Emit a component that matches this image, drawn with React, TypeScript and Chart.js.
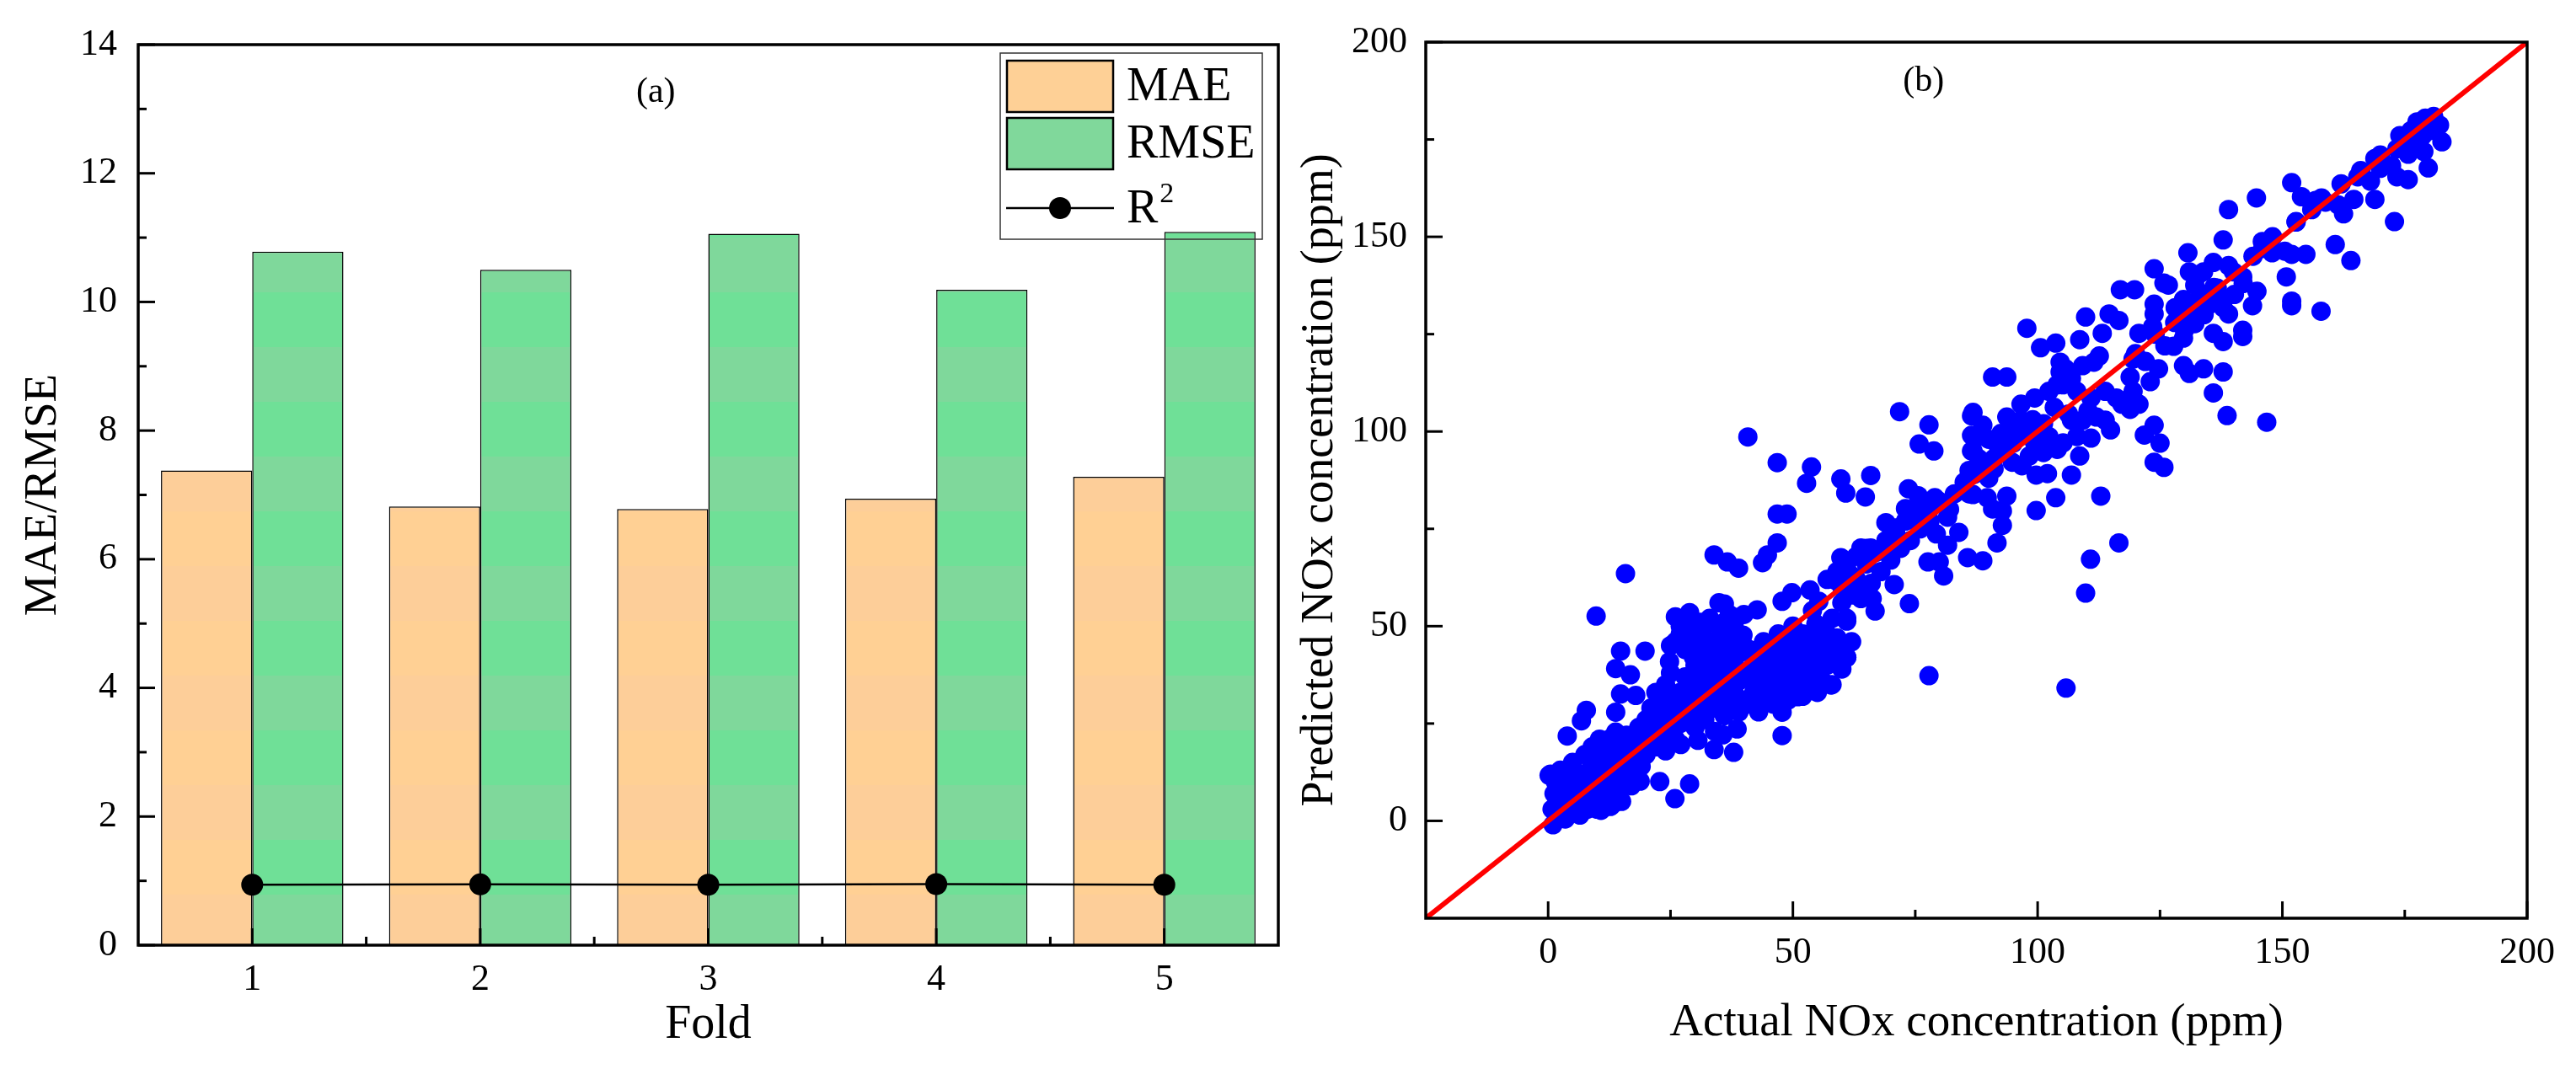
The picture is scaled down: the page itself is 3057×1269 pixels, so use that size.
import { useEffect, useRef } from "react";
import { Chart, registerables } from "chart.js";

Chart.register(...registerables);

Chart.defaults.font.family = "'Liberation Serif', 'Times New Roman', serif";
Chart.defaults.color = "#000";

// (a) k-fold cross validation
const folds = ["1", "2", "3", "4", "5"];
const maeValues = [7.38, 6.82, 6.78, 6.94, 7.28];
const rmseValues = [10.78, 10.5, 11.06, 10.19, 11.09];
const r2Values = [0.94, 0.945, 0.94, 0.95, 0.94];

// (b) actual vs predicted NOx (ppm), [actual, predicted]
const noxPoints: [number, number][] = [
  // sparse points
  [40.8, 98.6], [46.8, 92.0], [53.8, 90.9], [52.8, 86.7], [59.8, 87.8], [60.8, 84.2], [65.9, 88.7], [64.8, 83.2],
  [71.8, 105.1], [77.8, 101.7], [75.8, 96.8], [78.8, 95.0], [86.5, 104], [86.5, 99], [86.5, 95], [46.8, 78.8],
  [48.8, 78.8], [46.8, 71.4], [44.8, 68.3], [43.8, 66.3], [33.9, 68.3], [36.6, 66.5], [38.9, 64.9], [15.8, 63.5],
  [9.8, 52.6], [34.9, 56.0], [36.0, 55.7], [42.7, 54.2], [77.8, 37.3], [73.8, 55.8], [66.8, 53.9], [57.8, 34.9],
  [47.8, 27.9], [47.8, 21.9], [37.9, 17.6], [33.9, 18.3], [25.9, 5.7], [28.9, 9.5], [22.8, 10.1], [18.8, 10.2],
  [7.8, 28.4], [6.8, 25.7], [3.9, 21.8], [14.8, 43.6], [19.8, 43.6], [13.8, 39.1], [16.8, 37.5], [14.8, 32.6],
  [17.9, 32.2], [13.8, 27.9], [13.8, 22.8], [10.5, 21.0], [24.8, 40.9], [26.0, 52.4], [28.9, 53.5], [29.7, 42],
  [35.7, 49.9], [39.8, 47.7], [47.8, 56.4], [49.8, 58.6], [53.5, 59.3], [58.7, 61.8], [59.8, 67.6], [63.9, 70.1],
  [65.9, 70.1], [69.0, 76.6], [71.0, 75.2], [73.6, 85.3], [75.6, 83.5], [73.0, 80.2], [84.8, 84.9], [83.9, 74.1],
  [81.6, 70.8], [77.6, 79.1], [79.3, 73.7], [85.7, 67.6], [80.8, 62.9], [70.7, 60.7], [77.6, 66.5], [79.9, 66.5],
  [61.0, 51.3], [61.0, 42], [58.1, 44.1], [55.8, 49.2], [51.0, 31.9], [44.9, 31.9], [38.6, 23.6], [35.7, 22.1],
  [30.6, 20.7], [27.1, 19.6], [87.1, 89.6], [66.2, 57.1], [63.9, 57.1], [55.3, 56.4], [54.7, 50.6],
  [10.8, 2.7], [12.7, 3.7], [0.2, 11.7],
  [97.8, 126.5], [90.8, 114.0], [93.7, 114.0], [86.8, 104.9], [88.8, 101.6], [88.0, 98.7], [86.8, 95.0],
  [100.6, 121.5], [103.7, 122.7], [104.6, 117.8], [105.7, 116.1], [109.8, 129.4], [108.6, 123.6], [114.6, 130.2],
  [116.6, 128.5], [113.2, 125.2], [116.9, 136.4], [119.8, 136.4], [123.8, 141.8], [125.8, 138.1], [126.7, 137.6],
  [130.7, 145.9], [137.9, 149.2], [139, 157], [145.9, 148.8], [152.8, 153.8], [147.9, 145.9], [150.5, 146.3],
  [151.9, 145.5], [154.8, 145.5], [160.8, 148], [164.0, 143.9], [162.5, 155.9], [150.8, 139.7], [151.9, 133.5],
  [151.9, 132.3], [157.9, 130.9], [131, 141], [133.9, 141], [135.9, 143.4], [139, 142.6], [132.1, 137.6],
  [136.7, 136.8], [141.9, 139.7], [144.8, 136], [143.9, 132.3], [141.9, 126], [141.9, 124.4], [137.9, 123.1],
  [135.9, 125.2], [139, 130.2], [128.1, 131.8], [129.8, 133.9], [123.8, 132.7], [123.8, 130.2], [123.5, 126.9],
  [120.7, 125.2], [127.8, 121.9], [129.8, 124], [129.8, 116.9], [131, 114.9], [133.9, 116.1], [137.9, 115.3],
  [135.9, 109.9], [138.7, 104.1], [146.8, 102.4], [123, 112.8], [124.7, 116.1], [119.5, 118.6], [118.9, 114],
  [120.7, 107], [118.9, 105.7], [123.8, 101.6], [121.8, 99.1], [125, 97], [123.8, 92.1], [125.8, 90.8],
  [114.9, 100.4], [110.9, 98.3], [106.9, 88.8], [108.6, 93.7], [112.9, 83.4], [103.7, 83], [99.7, 79.7],
  [116.6, 71.4], [110.8, 67.2], [109.8, 58.5], [105.8, 34.1], [93.7, 83.4], [92.8, 79.6], [92.8, 75.9],
  [91.7, 71.4], [88.8, 66.8], [81.6, 78], [89.7, 83], [90.8, 80.1], [88.5, 89.6], [91.1, 90.4], [86.8, 83.8],
  [96.8, 91.2], [99.7, 88.8], [102, 89.2], [94.8, 92.1], [98.3, 93.7], [144.7, 160],
  [179.2, 180.5], [180.9, 180.9], [177.5, 179.5], [176.3, 177.3], [182.1, 178.7], [182.6, 174.4], [178.6, 175.9],
  [180.3, 177.3], [178.9, 171.9], [179.8, 167.7], [175.7, 171.2], [173.4, 172.6], [172.3, 168.3], [173.4, 165.4],
  [175.7, 164.7], [168.9, 170.1], [170, 167.6], [168, 164.3], [168.9, 159.6], [165.4, 165.4], [164.6, 159.6],
  [161.4, 158.2], [162, 163.6], [172.9, 153.9], [158.8, 158.9], [156.8, 159.3], [153.9, 160.3], [151.9, 163.9],
  [152.8, 153.9],
  // dense band near the origin
  [0.5, 12], [0.8, 3], [1, -1], [1.2, 7], [1.5, 10], [2, 1], [2, 5], [2.5, 13], [3, 3], [3, 8], [3.5, 0.5],
  [4, 6], [4, 11], [4.5, 2], [5, 9], [5, 15], [5.5, 4], [6, 7], [6, 12], [6.5, 1.5], [7, 5], [7, 10], [7.5, 17],
  [8, 3], [8, 8], [8.5, 13], [9, 6], [9, 19], [9.5, 10], [10, 3], [10, 15], [10.5, 8], [11, 12], [11, 18],
  [11.5, 5], [12, 9], [12, 14], [12.5, 21], [13, 4], [13, 11], [13.5, 16], [14, 8], [14, 13], [14.5, 19],
  [15, 5], [15, 10], [15.5, 15], [16, 22], [16, 12], [16.5, 17], [17, 9], [17, 14], [17.5, 20], [18, 16],
  [18, 12], [18.5, 24], [19, 18], [19, 14], [19.5, 21], [20, 17], [20, 26],
  // dense band 20-40 ppm
  [21, 23], [21, 29], [22, 19], [22, 26], [22, 33], [23, 22], [23, 30], [24, 18], [24, 27], [24, 35], [25, 24],
  [25, 31], [25, 38], [26, 21], [26, 28], [26, 46], [27, 25], [27, 33], [27, 50], [28, 30], [28, 37], [28, 44],
  [29, 27], [29, 35], [29, 52], [30, 24], [30, 32], [30, 40], [30, 48], [31, 29], [31, 36], [31, 44], [32, 26],
  [32, 34], [32, 41], [32, 50], [33, 31], [33, 38], [33, 46], [34, 23], [34, 29], [34, 36], [34, 43], [35, 33],
  [35, 40], [35, 47], [36, 27], [36, 35], [36, 42], [36, 51], [37, 30], [37, 38], [37, 45], [38, 33], [38, 40],
  [38, 48], [39, 28], [39, 36], [39, 43], [40, 31], [40, 38], [40, 45], [40, 53], [25, 45], [27, 48], [29, 47],
  [31, 51], [33, 52], [35, 50], [37, 53], [38, 50],
  // dense band 40-62 ppm
  [41, 30], [41, 37], [41, 44], [42, 33], [42, 40], [43, 28], [43, 36], [43, 44], [44, 31], [44, 39], [44, 46],
  [45, 34], [45, 42], [46, 30], [46, 37], [46, 45], [47, 33], [47, 40], [47, 48], [48, 36], [48, 43], [49, 31],
  [49, 39], [49, 47], [50, 34], [50, 41], [50, 50], [51, 37], [51, 45], [52, 32], [52, 40], [52, 48], [53, 35],
  [53, 43], [54, 38], [54, 46], [54, 54], [55, 33], [55, 41], [55, 50], [56, 36], [56, 44], [57, 40], [57, 48],
  [58, 35], [58, 43], [58, 52], [59, 47], [60, 39], [60, 45], [60, 56], [61, 42], [61, 52], [62, 46], [62, 58],
  // band 57-100 ppm
  [57, 62], [59, 64], [61, 66], [63, 68], [65, 70], [62, 63], [60, 60], [63, 62], [64, 58], [65, 66], [66, 61],
  [67, 69], [68, 64], [69, 72], [70, 67], [71, 74], [72, 70], [73, 77], [74, 72], [75, 79], [76, 75], [77, 81],
  [78, 77], [79, 83], [80, 82], [82, 80], [83, 84], [85, 87], [86, 84], [87, 89], [89, 91], [90, 88], [91, 93],
  [92, 96], [93, 95], [94, 99], [95, 97], [96, 101], [97, 99], [99, 103], [100, 101], [88, 93], [90, 98], [86, 90],
  // dense band 92-120 ppm
  [96.6, 107], [99.4, 108.6], [102.3, 110.3], [105.2, 112], [108, 110.3], [110.9, 108.6], [113.8, 110.3],
  [116.1, 108.6], [103.4, 106.2], [106.3, 104.5], [109.2, 102.9], [112, 103.7], [101.2, 102], [98.3, 100.4],
  [95.4, 98.7], [92.5, 99.5], [93.7, 103.7], [96.6, 102.9], [99.4, 97.1], [102.3, 98.7], [105.2, 97.1],
  [108, 98.7], [101.2, 94.6], [104, 95.4], [106.9, 102.9], [110.3, 105.3], [104.6, 115.3], [106.9, 113.6],
  [109.2, 116.9], [111.5, 117.8], [112.6, 119.4], [104, 112], [119.5, 110.3], [117.2, 107], [113.8, 102.9],
  // band 120-183 ppm
  [120, 120], [122, 118], [124, 125], [126, 122], [128, 128], [130, 126], [132, 133], [134, 130], [136, 137],
  [138, 134], [140, 141], [142, 138], [144, 145], [132.7, 140.1], [134.4, 135.2], [136.7, 133.5], [140.2, 135.2],
  [137.9, 131.8], [134.4, 131.8], [131, 129.4], [132.1, 127.7], [146, 147], [148, 150], [156, 157], [158, 160],
  [166, 167], [170, 171], [174, 176], [176, 174], [181, 178],
];
const idealRange = [-25, 200];

const bandHeight = 65;

function bandFill(chart: any, dull: string, bright: string) {
  const area = chart.chartArea;
  if (!area) return dull;
  const bottom = area.bottom + 5;
  const total = bottom - area.top;
  const g = chart.ctx.createLinearGradient(0, bottom, 0, area.top);
  let pos = 0;
  let k = 0;
  while (pos < total) {
    const c = k % 2 === 0 ? dull : bright;
    g.addColorStop(pos / total, c);
    g.addColorStop(Math.min(1, (pos + bandHeight) / total), c);
    pos += bandHeight;
    k++;
  }
  return g;
}

function tickValues(scale: any) {
  if (scale.type === "category") {
    const n = scale.getLabels().length;
    const majors = Array.from({ length: n }, (_, i) => i);
    const minors = majors.slice(0, -1).map((v) => v + 0.5);
    return { majors, minors };
  }
  const majors = scale.ticks.map((t: any) => t.value);
  const step = majors[1] - majors[0];
  const minors = [majors[0] - step / 2, ...majors.map((v: number) => v + step / 2)].filter(
    (v) => v > scale.min && v < scale.max
  );
  return { majors, minors };
}

// box frame with inward ticks on the left and bottom axes
const frameTicks = {
  id: "frameTicks",
  afterDatasetsDraw(chart: any) {
    const { ctx, chartArea: a } = chart;
    ctx.save();
    ctx.strokeStyle = "#000";
    ctx.lineWidth = 3;
    for (const id of ["x", "y"]) {
      const scale = chart.scales[id];
      const { majors, minors } = tickValues(scale);
      const marks = [...majors.map((v: number) => [v, 20]), ...minors.map((v: number) => [v, 10])];
      for (const [v, len] of marks) {
        const p = scale.getPixelForValue(v);
        ctx.beginPath();
        if (id === "x") {
          ctx.moveTo(p, a.bottom);
          ctx.lineTo(p, a.bottom - len);
        } else {
          ctx.moveTo(a.left, p);
          ctx.lineTo(a.left + len, p);
        }
        ctx.stroke();
      }
    }
    ctx.lineWidth = 3.5;
    ctx.strokeRect(a.left, a.top, a.right - a.left, a.bottom - a.top);
    ctx.restore();
  },
};

const panelTag = {
  id: "panelTag",
  afterDraw(chart: any, _args: any, opts: any) {
    const { ctx, chartArea: a } = chart;
    ctx.save();
    ctx.font = "42px 'Liberation Serif'";
    ctx.fillStyle = "#000";
    ctx.textAlign = "center";
    ctx.textBaseline = "middle";
    ctx.fillText(opts.text, a.left + (a.right - a.left) * opts.fx, a.top + opts.dy);
    ctx.restore();
  },
};

const boxLegend = {
  id: "boxLegend",
  afterDraw(chart: any) {
    const { ctx, chartArea: a } = chart;
    const w = 311;
    const h = 221;
    const x0 = a.right - 19 - w;
    const y0 = a.top + 10;
    const rows = [39, 107, 184];
    ctx.save();
    ctx.lineWidth = 1.5;
    ctx.strokeStyle = "#333";
    ctx.strokeRect(x0, y0, w, h);
    chart.data.datasets.forEach((ds: any, i: number) => {
      const cy = y0 + rows[i];
      ctx.strokeStyle = "#000";
      ctx.fillStyle = "#000";
      if (ds.type === "line") {
        ctx.lineWidth = 2.5;
        ctx.beginPath();
        ctx.moveTo(x0 + 7, cy);
        ctx.lineTo(x0 + 135, cy);
        ctx.stroke();
        ctx.beginPath();
        ctx.arc(x0 + 71, cy, 13, 0, Math.PI * 2);
        ctx.fill();
      } else {
        ctx.fillStyle = ds.swatch;
        ctx.fillRect(x0 + 8, cy - 30, 126, 61);
        ctx.lineWidth = 2.5;
        ctx.strokeRect(x0 + 8, cy - 30, 126, 61);
        ctx.fillStyle = "#000";
      }
      ctx.textAlign = "left";
      ctx.textBaseline = "middle";
      ctx.font = "56px 'Liberation Serif'";
      const label: string = ds.label;
      if (label.endsWith("²")) {
        const base = label.slice(0, -1);
        ctx.fillText(base, x0 + 150, cy + 2);
        const bw = ctx.measureText(base).width;
        ctx.font = "34px 'Liberation Serif'";
        ctx.fillText("2", x0 + 152 + bw, cy - 16);
      } else {
        ctx.fillText(label, x0 + 150, cy + 2);
      }
    });
    ctx.restore();
  },
};

const tickFont = { size: 44, lineHeight: 1 };
const titleFont = { size: 56, lineHeight: 1 };

export default function App() {
  const leftRef = useRef<HTMLCanvasElement | null>(null);
  const rightRef = useRef<HTMLCanvasElement | null>(null);

  useEffect(() => {
    const charts: Chart[] = [];
    if (leftRef.current) {
      charts.push(
        new Chart(leftRef.current, {
          type: "bar",
          data: {
            labels: folds,
            datasets: [
              {
                label: "MAE",
                data: maeValues,
                backgroundColor: (c: any) => bandFill(c.chart, "#FDCE99", "#FFD094"),
                swatch: "#FED096",
                borderColor: "#000",
                borderWidth: 1.5,
                categoryPercentage: 0.8,
                barPercentage: 1,
                order: 1,
              } as any,
              {
                label: "RMSE",
                data: rmseValues,
                backgroundColor: (c: any) => bandFill(c.chart, "#7FD89B", "#6FE097"),
                swatch: "#80D89B",
                borderColor: "#000",
                borderWidth: 1.5,
                categoryPercentage: 0.8,
                barPercentage: 1,
                order: 2,
              } as any,
              {
                type: "line",
                label: "R²",
                data: r2Values,
                borderColor: "#000",
                borderWidth: 2.5,
                pointRadius: 13,
                pointBackgroundColor: "#000",
                pointBorderWidth: 0,
                order: 0,
              } as any,
            ],
          },
          options: {
            animation: false,
            responsive: true,
            maintainAspectRatio: false,
            layout: { padding: { top: 53, right: 7, left: 0, bottom: 0 } },
            plugins: { legend: { display: false }, tooltip: { enabled: false }, panelTag: { text: "(a)", fx: 0.454, dy: 57 } } as any,
            scales: {
              x: {
                grid: { display: false, drawTicks: false },
                border: { display: false },
                ticks: { color: "#000", font: tickFont, padding: 19 },
                title: { display: true, text: "Fold", color: "#000", font: titleFont, padding: { top: 0, bottom: 24 } },
                afterFit: (s: any) => {
                  s.height = 147;
                },
              },
              y: {
                min: 0,
                max: 14,
                grid: { display: false, drawTicks: false },
                border: { display: false },
                ticks: { stepSize: 2, color: "#000", font: tickFont, padding: 25 },
                title: {
                  display: true,
                  text: "MAE/RMSE",
                  color: "#000",
                  font: { size: 55, lineHeight: 1 },
                  padding: { top: 24, bottom: 0 },
                },
                afterFit: (s: any) => {
                  s.width = 164;
                },
              },
            },
          },
          plugins: [frameTicks, boxLegend, panelTag],
        })
      );
    }
    if (rightRef.current) {
      charts.push(
        new Chart(rightRef.current, {
          type: "scatter",
          data: {
            datasets: [
              {
                label: "y = x",
                data: idealRange.map((v) => ({ x: v, y: v })),
                showLine: true,
                borderColor: "#FF0000",
                borderWidth: 6,
                pointRadius: 0,
                order: 0,
              },
              {
                label: "NOx",
                data: noxPoints.map(([x, y]) => ({ x, y })),
                backgroundColor: "#0000FF",
                borderWidth: 0,
                pointRadius: 11.5,
                order: 1,
              },
            ],
          },
          options: {
            animation: false,
            responsive: true,
            maintainAspectRatio: false,
            layout: { padding: { top: 50, right: 58, left: 0, bottom: 0 } },
            plugins: { legend: { display: false }, tooltip: { enabled: false }, panelTag: { text: "(b)", fx: 0.452, dy: 47 } } as any,
            scales: {
              x: {
                type: "linear",
                min: -25,
                max: 200,
                grid: { display: false, drawTicks: false },
                border: { display: false },
                ticks: { stepSize: 50, includeBounds: false, color: "#000", font: tickFont, padding: 19 },
                title: {
                  display: true,
                  text: "Actual NOx concentration (ppm)",
                  color: "#000",
                  font: { size: 55, lineHeight: 1 },
                  padding: { top: 0, bottom: 27 },
                },
                afterFit: (s: any) => {
                  s.height = 179;
                },
              },
              y: {
                type: "linear",
                min: -25,
                max: 200,
                grid: { display: false, drawTicks: false },
                border: { display: false },
                ticks: { stepSize: 50, includeBounds: false, color: "#000", font: tickFont, padding: 22 },
                title: {
                  display: true,
                  text: "Predicted NOx concentration (ppm)",
                  color: "#000",
                  font: { size: 54, lineHeight: 1 },
                  padding: { top: 10, bottom: 0 },
                },
                afterFit: (s: any) => {
                  s.width = 162;
                },
              },
            },
          },
          plugins: [frameTicks, panelTag],
        })
      );
    }
    return () => {
      charts.forEach((c) => c.destroy());
    };
  }, []);

  return (
    <div style={{ position: "absolute", left: 0, top: 0, width: 3057, height: 1269, background: "#fff" }}>
      <div style={{ position: "absolute", left: 0, top: 0, width: 1530, height: 1269 }}>
        <canvas ref={leftRef}></canvas>
      </div>
      <div style={{ position: "absolute", left: 1530, top: 0, width: 1527, height: 1269 }}>
        <canvas ref={rightRef}></canvas>
      </div>
    </div>
  );
}
